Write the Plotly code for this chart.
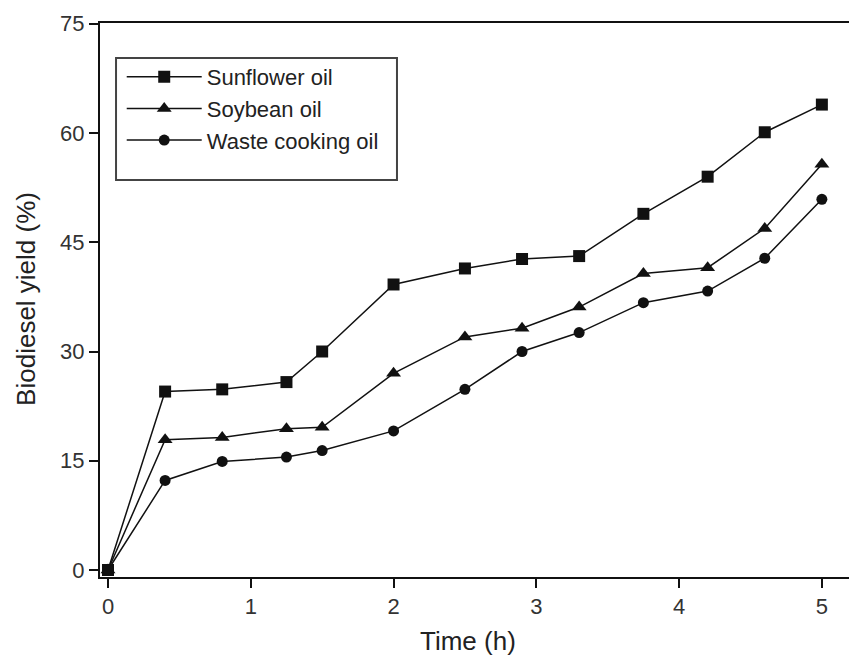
import plotly.graph_objects as go

time_h = [0, 0.4, 0.8, 1.25, 1.5, 2, 2.5, 2.9, 3.3, 3.75, 4.2, 4.6, 5]
sunflower = [0, 24.5, 24.8, 25.8, 30.0, 39.2, 41.4, 42.7, 43.1, 48.9, 54.0, 60.1, 63.9]
soybean = [0, 17.9, 18.2, 19.4, 19.6, 27.0, 32.0, 33.2, 36.1, 40.7, 41.5, 46.9, 55.7]
waste = [0, 12.3, 14.9, 15.5, 16.4, 19.1, 24.8, 30.0, 32.6, 36.7, 38.3, 42.8, 50.9]

x_ticks = [0, 1, 2, 3, 4, 5]
y_ticks = [0, 15, 30, 45, 60, 75]

series = [
    ("Sunflower oil", sunflower, "square", 12),
    ("Soybean oil", soybean, "triangle-up", 13),
    ("Waste cooking oil", waste, "circle", 11),
]

fig = go.Figure()
for name, vals, sym, sz in series:
    fig.add_trace(go.Scatter(
        x=time_h, y=vals, name=name, mode="lines+markers",
        line=dict(color="#111111", width=1.5),
        marker=dict(symbol=sym, size=sz, color="#111111"),
    ))

FONT = "Liberation Sans, Arial, sans-serif"

fig.update_layout(
    width=849, height=655,
    margin=dict(l=100, r=0, t=23, b=78),
    paper_bgcolor="white", plot_bgcolor="white",
    showlegend=True,
    legend=dict(
        x=0.029, y=0.9404, xanchor="left", yanchor="top",
        bgcolor="rgba(0,0,0,0)", borderwidth=0,
        font=dict(family=FONT, size=22, color="#222222"),
        itemwidth=75, tracegroupgap=0,
    ),
    shapes=[
        dict(type="rect", xref="paper", yref="paper",
             x0=0.0214, x1=0.3965, y0=0.7166, y1=0.9368,
             line=dict(color="#444444", width=2), fillcolor="rgba(0,0,0,0)", layer="above"),
    ],
    xaxis=dict(
        range=[-0.056, 5.19], tickvals=x_ticks, ticktext=[str(v) for v in x_ticks],
        showgrid=False, zeroline=False, showline=True, linecolor="#111111", linewidth=2,
        mirror=True, ticks="outside", ticklen=9, tickwidth=1.5, tickcolor="#111111",
        tickfont=dict(family=FONT, size=22, color="#333333"),
    ),
    yaxis=dict(
        range=[-0.96, 75.1], tickvals=y_ticks, ticktext=[str(v) for v in y_ticks],
        showgrid=False, zeroline=False, showline=True, linecolor="#111111", linewidth=2,
        ticks="outside", ticklen=9, tickwidth=1.5, tickcolor="#111111",
        tickfont=dict(family=FONT, size=22, color="#333333"),
    ),
    annotations=[
        dict(text="Time (h)", xref="paper", yref="paper", x=0.491, y=-0.1155,
             xanchor="center", yanchor="middle", showarrow=False,
             font=dict(family=FONT, size=26, color="#222222")),
        dict(text="Biodiesel yield (%)", xref="paper", yref="paper", x=-0.0988, y=0.502,
             xanchor="center", yanchor="middle", showarrow=False, textangle=-90,
             font=dict(family=FONT, size=26, color="#222222")),
    ],
)

fig.write_html("out.html")
